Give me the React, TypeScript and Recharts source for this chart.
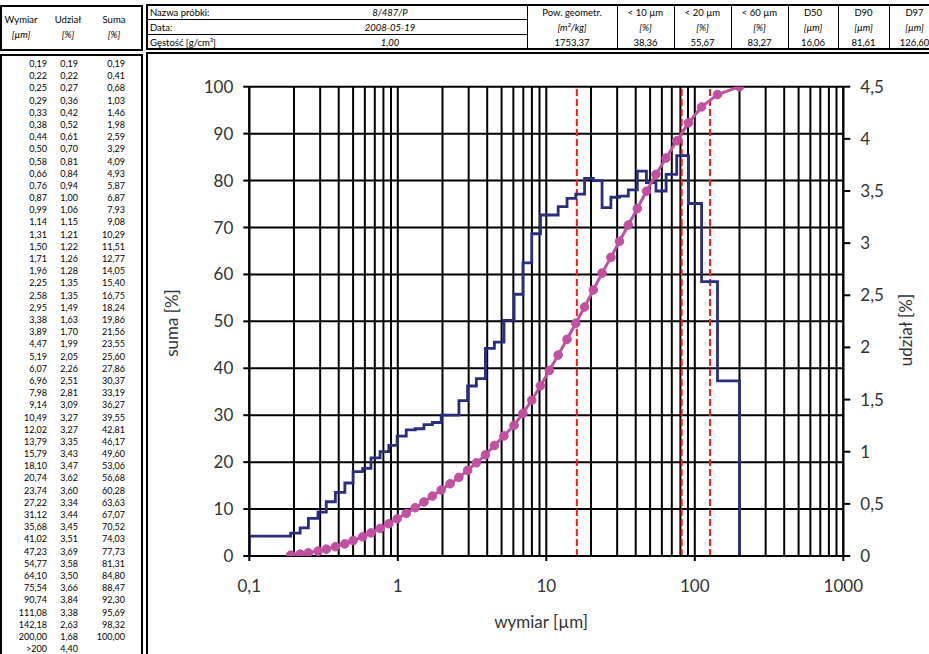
import React from 'react';
import { ComposedChart, Line, XAxis, YAxis, ReferenceLine } from 'recharts';

// ---- data ----
const sizes = [0.19, 0.22, 0.25, 0.29, 0.33, 0.38, 0.44, 0.5, 0.58, 0.66, 0.76, 0.87, 0.99, 1.14, 1.31, 1.5, 1.71, 1.96, 2.25, 2.58, 2.95, 3.38, 3.89, 4.47, 5.19, 6.07, 6.96, 7.98, 9.14, 10.49, 12.02, 13.79, 15.79, 18.1, 20.74, 23.74, 27.22, 31.12, 35.68, 41.02, 47.23, 54.77, 64.1, 75.54, 90.74, 111.08, 142.18, 200.0];
const udzial = [0.19, 0.22, 0.27, 0.36, 0.42, 0.52, 0.61, 0.7, 0.81, 0.84, 0.94, 1.0, 1.06, 1.15, 1.21, 1.22, 1.26, 1.28, 1.35, 1.35, 1.49, 1.63, 1.7, 1.99, 2.05, 2.26, 2.51, 2.81, 3.09, 3.27, 3.27, 3.35, 3.43, 3.47, 3.62, 3.6, 3.34, 3.44, 3.45, 3.51, 3.69, 3.58, 3.5, 3.66, 3.84, 3.38, 2.63, 1.68];
const suma = [0.19, 0.41, 0.68, 1.03, 1.46, 1.98, 2.59, 3.29, 4.09, 4.93, 5.87, 6.87, 7.93, 9.08, 10.29, 11.51, 12.77, 14.05, 15.4, 16.75, 18.24, 19.86, 21.56, 23.55, 25.6, 27.86, 30.37, 33.19, 36.27, 39.55, 42.81, 46.17, 49.6, 53.06, 56.68, 60.28, 63.63, 67.07, 70.52, 74.03, 77.73, 81.31, 84.8, 88.47, 92.3, 95.69, 98.32, 100.0];
const overLabel = '>200';
const overUdzial = 4.4;

const tableHeads = ['Wymiar', 'Udział', 'Suma'];
const tableUnits = ['[µm]', '[%]', '[%]'];

const infoLabels = ['Nazwa próbki:', 'Data:', 'Gęstość [g/cm³]'];
const infoValues = ['8/487/P', '2008-05-19', '1,00'];

const statTitles = ['Pow. geometr.', '< 10 µm', '< 20 µm', '< 60 µm', 'D50', 'D90', 'D97'];
const statUnits = ['[m²/kg]', '[%]', '[%]', '[%]', '[µm]', '[µm]', '[µm]'];
const statValues = [1753.37, 38.36, 55.67, 83.27, 16.06, 81.61, 126.6];

const xTicks = [0.1, 1, 10, 100, 1000];
const gridX = [0.1, 0.2, 0.3, 0.4, 0.5, 0.6, 0.7, 0.8, 0.9, 1, 2, 3, 4, 5, 6, 7, 8, 9, 10, 20, 30, 40, 50, 60, 70, 80, 90, 100, 200, 300, 400, 500, 600, 700, 800, 900, 1000];
const leftTicks = [0, 10, 20, 30, 40, 50, 60, 70, 80, 90, 100];
const rightTicks = [0, 0.5, 1, 1.5, 2, 2.5, 3, 3.5, 4, 4.5];
const dLines = [16.06, 81.61, 126.6]; // D50, D90, D97
const xStart = 0.1;

// ---- styling / layout ----
const NAVY = '#2B2E80';
const PINK = '#C150A2';
const RED = '#FF1A1A';
const TXT = '#333';
const statEdges = [527, 617, 674, 731, 788, 838, 889, 940];

const fmt2 = (v: number) => v.toFixed(2).replace('.', ',');
const fmtTick = (v: number) => String(v).replace('.', ',');

const histData = [
  { x: xStart, y: 0 },
  ...sizes.map((s, i) => ({ x: s, y: udzial[i] })),
  { x: sizes[sizes.length - 1], y: 0 },
];
const cumData = sizes.map((s, i) => ({ x: s, y: suma[i] }));

const abs = (l: number, t: number, extra: React.CSSProperties = {}): React.CSSProperties => ({
  position: 'absolute', left: l, top: t, ...extra,
});

export default function App() {
  const rowH = 12.19;
  const colRight = [47, 78, 125];
  const colCenter = [21, 68, 114];
  return (
    <div style={{ position: 'absolute', left: 0, top: 0, width: 929, height: 654, overflow: 'hidden', background: '#fff', fontFamily: 'Lato, "Open Sans", sans-serif', color: '#000' }}>
      {/* left table header */}
      <div style={abs(0, 5, { width: 143, height: 46, border: '2px solid #000', borderLeftWidth: 2, boxSizing: 'border-box' })} />
      {tableHeads.map((h, i) => (
        <div key={'th' + i} style={abs(colCenter[i] - 30, 14, { width: 60, textAlign: 'center', fontSize: 9.5, lineHeight: '12px' })}>{h}</div>
      ))}
      {tableUnits.map((h, i) => (
        <div key={'tu' + i} style={abs(colCenter[i] - 30, 29, { width: 60, textAlign: 'center', fontSize: 9.5, lineHeight: '12px', fontStyle: 'italic' })}>{h}</div>
      ))}
      {/* left table body */}
      <div style={abs(0, 54, { width: 143, height: 620, border: '2px solid #000', boxSizing: 'border-box' })} />
      {sizes.map((s, i) => (
        <React.Fragment key={'r' + i}>
          <div style={abs(colRight[0] - 40, 58 + i * rowH, { width: 40, textAlign: 'right', fontSize: 9, lineHeight: '12px' })}>{fmt2(s)}</div>
          <div style={abs(colRight[1] - 40, 58 + i * rowH, { width: 40, textAlign: 'right', fontSize: 9, lineHeight: '12px' })}>{fmt2(udzial[i])}</div>
          <div style={abs(colRight[2] - 40, 58 + i * rowH, { width: 40, textAlign: 'right', fontSize: 9, lineHeight: '12px' })}>{fmt2(suma[i])}</div>
        </React.Fragment>
      ))}
      <div style={abs(colRight[0] - 40, 58 + sizes.length * rowH, { width: 40, textAlign: 'right', fontSize: 9, lineHeight: '12px' })}>{overLabel}</div>
      <div style={abs(colRight[1] - 40, 58 + sizes.length * rowH, { width: 40, textAlign: 'right', fontSize: 9, lineHeight: '12px' })}>{fmt2(overUdzial)}</div>

      {/* info table */}
      <div style={abs(146, 4, { width: 800, height: 46, border: '2px solid #000', boxSizing: 'border-box' })} />
      <div style={abs(146, 19, { width: 382, height: 0, borderTop: '1.5px solid #000' })} />
      <div style={abs(146, 34, { width: 382, height: 0, borderTop: '1.5px solid #000' })} />
      {infoLabels.map((l, i) => (
        <React.Fragment key={'info' + i}>
          <div style={abs(150, 6 + i * 15, { fontSize: 9.5, lineHeight: '13px', whiteSpace: 'nowrap' })}>{l}</div>
          <div style={abs(290, 6 + i * 15, { width: 200, textAlign: 'center', fontSize: 9.5, lineHeight: '13px', fontStyle: 'italic' })}>{infoValues[i]}</div>
        </React.Fragment>
      ))}
      {statTitles.map((t, i) => {
        const l = statEdges[i];
        const w = statEdges[i + 1] - l;
        return (
          <React.Fragment key={'st' + i}>
            <div style={abs(l, 4, { width: 0, height: 46, borderLeft: '1.5px solid #000' })} />
            <div style={abs(l, 6, { width: w, textAlign: 'center', fontSize: 9.5, lineHeight: '13px', whiteSpace: 'nowrap' })}>{t}</div>
            <div style={abs(l, 21, { width: w, textAlign: 'center', fontSize: 9.5, lineHeight: '13px', fontStyle: 'italic', whiteSpace: 'nowrap' })}>{statUnits[i]}</div>
            <div style={abs(l, 36, { width: w, textAlign: 'center', fontSize: 9.5, lineHeight: '13px', whiteSpace: 'nowrap' })}>{fmt2(statValues[i])}</div>
          </React.Fragment>
        );
      })}

      {/* chart box */}
      <div style={abs(146, 52, { width: 800, height: 620, border: '2px solid #000', boxSizing: 'border-box' })} />
      <div style={abs(147, 52)}>
        <ComposedChart width={782} height={602} margin={{ top: 34.7, right: 15.7, bottom: 58, left: 32.3 }}>
          <XAxis xAxisId="x" dataKey="x" type="number" scale="log" domain={[0.1, 1000]} allowDataOverflow ticks={xTicks}
            tickFormatter={fmtTick} height={40} tickSize={5} tickMargin={19}
            axisLine={{ stroke: '#000', strokeWidth: 2 }} tickLine={{ stroke: '#000', strokeWidth: 2 }}
            tick={{ fontSize: 17, fill: TXT }} />
          <YAxis yAxisId="left" type="number" domain={[0, 100]} ticks={leftTicks} width={70} tickSize={6} tickMargin={10}
            axisLine={{ stroke: '#000', strokeWidth: 2 }} tickLine={{ stroke: '#000', strokeWidth: 2 }}
            tick={{ fontSize: 17, fill: TXT }} allowDataOverflow />
          <YAxis yAxisId="right" orientation="right" type="number" domain={[0, 4.5]} ticks={rightTicks} width={70} tickSize={7} tickMargin={10}
            tickFormatter={fmtTick} axisLine={{ stroke: '#000', strokeWidth: 2 }} tickLine={{ stroke: '#000', strokeWidth: 2 }}
            tick={{ fontSize: 17, fill: TXT }} allowDataOverflow />
          {gridX.map((v) => (
            <ReferenceLine key={'gx' + v} x={v} xAxisId="x" yAxisId="left" stroke="#000" strokeWidth={2} zIndex={-100} />
          ))}
          {leftTicks.map((v) => (
            <ReferenceLine key={'gy' + v} y={v} xAxisId="x" yAxisId="left" stroke="#000" strokeWidth={2} zIndex={-100} />
          ))}
          {dLines.map((v) => (
            <ReferenceLine key={'d' + v} x={v} xAxisId="x" yAxisId="left" stroke={RED} strokeWidth={2} strokeDasharray="7 3" zIndex={-50} />
          ))}
          <Line xAxisId="x" yAxisId="right" data={histData} dataKey="y" type="stepBefore" stroke={NAVY} strokeWidth={2.8}
            dot={false} activeDot={false} isAnimationActive={false} />
          <Line xAxisId="x" yAxisId="left" data={cumData} dataKey="y" type="linear" stroke={PINK} strokeWidth={3}
            dot={{ r: 4.3, fill: PINK, stroke: PINK, strokeWidth: 1 }} activeDot={false} isAnimationActive={false} zIndex={450} />
        </ComposedChart>
      </div>
      {/* axis titles */}
      <div style={abs(172 - 60, 323 - 11, { width: 120, height: 22, textAlign: 'center', fontSize: 17, lineHeight: '22px', color: TXT, transform: 'rotate(-90deg)' })}>suma [%]</div>
      <div style={abs(906 - 60, 330 - 11, { width: 120, height: 22, textAlign: 'center', fontSize: 17, lineHeight: '22px', color: TXT, transform: 'rotate(-90deg)' })}>udział [%]</div>
      <div style={abs(541 - 80, 622 - 11, { width: 160, height: 22, textAlign: 'center', fontSize: 17, lineHeight: '22px', color: TXT })}>wymiar [µm]</div>
    </div>
  );
}
